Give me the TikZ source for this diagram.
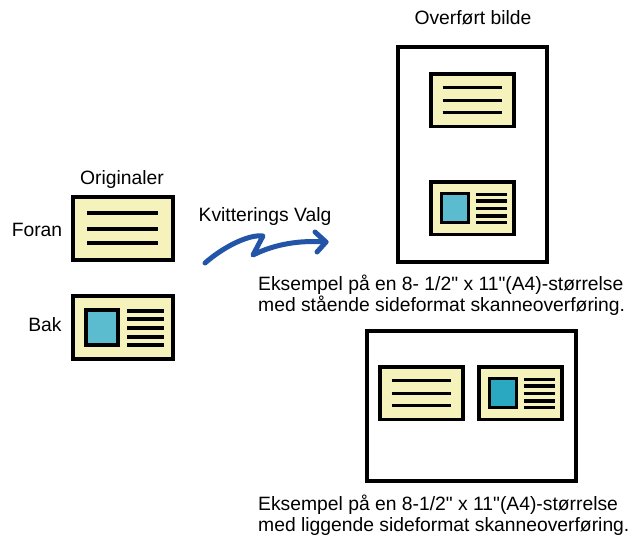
\documentclass[tikz,border=0pt]{standalone}
\usepackage{fontspec}
\setmainfont{Liberation Sans}
\font\qfont="Liberation Sans" at 19.3pt
\definecolor{cream}{RGB}{245,243,187}
\definecolor{lightblue}{RGB}{91,188,208}
\definecolor{deepblue}{RGB}{42,168,194}
\definecolor{arrowblue}{RGB}{34,85,168}
\newcommand{\sq}{{\qfont\char34}}
\tikzset{
  outline/.style={line width=3.4pt, draw=black},
  rule/.style={line width=3.2pt, draw=black},
  label/.style={inner sep=0pt, font=\fontsize{19.3}{21}\selectfont},
  caption/.style={inner sep=0pt, anchor=base west, font=\fontsize{19.3}{21}\selectfont},
  textcard/.pic={
    \filldraw[outline, fill=cream] (0,0) rectangle (100,63);
    \foreach \yy in {16,32,46} \draw[rule] (14,\yy) -- (85,\yy);
  },
  imgcard/.pic={
    \filldraw[outline, fill=cream] (0,0) rectangle (100,63);
    \filldraw[outline, fill=#1] (13,14) rectangle (45,49);
    \foreach \yy in {15,23,32,41,49} \draw[rule] (54,\yy) -- (91,\yy);
  }
}
\begin{document}
\begin{tikzpicture}[x=1pt,y=-1pt]
\useasboundingbox (0,0) rectangle (628,536);
% originals
\node[label] (orig) at (122,180) {Originaler};
\node[label] (foran) at (37,230) {Foran};
\node[label] (bak) at (45,325) {Bak};
\pic at (73,197) {textcard};
\pic at (73,296) {imgcard=lightblue};
% arrow
\node[label] (valg) at (265,217) {Kvitterings Valg};
\coordinate (a0) at (205,263);
\coordinate (a1) at (263,236);
\coordinate (a2) at (253,255);
\coordinate (a3) at (326,242);
\draw[arrowblue, line width=5pt, line cap=round, line join=round]
  (a0) .. controls (222,248) and (248,234) .. (a1) -- (a2)
  .. controls (275,244) and (300,240) .. (a3);
\draw[arrowblue, line width=5pt, line cap=round, line join=round]
  (315,232) -- (a3) -- (317,252);
% portrait result
\node[label] (over) at (473,18) {Overført bilde};
\draw[outline] (398,47) rectangle (547,262);
\pic[scale=0.83] at (431,74) {textcard};
\pic[scale=0.83] at (431,182) {imgcard=lightblue};
\node[caption] (cap1a) at (258,290) {Eksempel på en 8- 1/2\sq{} x 11\sq(A4)-størrelse};
\node[caption] (cap1b) at (258,311) {med stående sideformat skanneoverføring.};
% landscape result
\draw[outline] (367,331) rectangle (576,481);
\pic[scale=0.83] at (380,367) {textcard};
\pic[scale=0.83] at (479,367) {imgcard=deepblue};
\node[caption] (cap2a) at (258,510) {Eksempel på en 8-1/2\sq{} x 11\sq(A4)-størrelse};
\node[caption] (cap2b) at (258,531) {med liggende sideformat skanneoverføring.};
\end{tikzpicture}
\end{document}
